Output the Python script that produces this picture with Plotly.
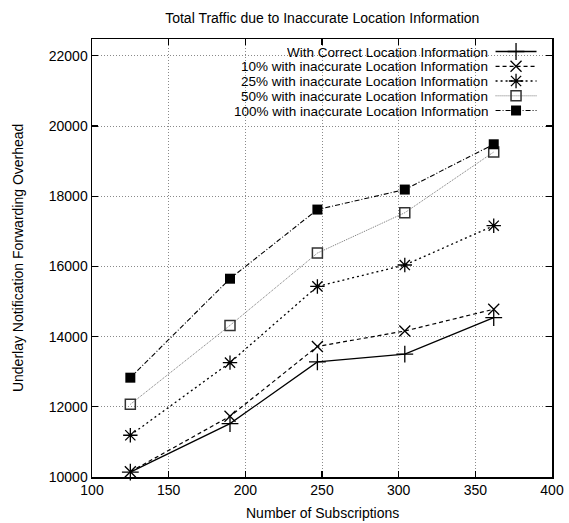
import plotly.graph_objects as go

# ---- data ----
subscriptions = [125, 190, 247, 304, 362]
correct = [10140, 11520, 13280, 13500, 14540]
inacc10 = [10150, 11730, 13720, 14160, 14780]
inacc25 = [11190, 13260, 15430, 16040, 17160]
inacc50 = [12070, 14320, 16380, 17530, 19260]
inacc100 = [12830, 15650, 17620, 18190, 19480]

series_names = [
    "With Correct Location Information",
    "10% with inaccurate Location Information",
    "25% with inaccurate Location Information",
    "50% with inaccurate Location Information",
    "100% with inaccurate Location Information",
]
series_values = [correct, inacc10, inacc25, inacc50, inacc100]

x_ticks = [100, 150, 200, 250, 300, 350, 400]
y_ticks = [10000, 12000, 14000, 16000, 18000, 20000, 22000]

# ---- styles ----
styles = [
    dict(dash="solid", color="black", lw=1.3, sym="cross-thin-open", ms=12, mlw=1.3, mcolor="black"),
    dict(dash="4px,3px", color="black", lw=1.2, sym="x-thin-open", ms=11, mlw=1.3, mcolor="black"),
    dict(dash="2px,3px", color="black", lw=1.3, sym="asterisk-open", ms=12, mlw=1.3, mcolor="black"),
    dict(dash="1px,1px", color="#777777", lw=1.0, sym="square-open", ms=10, mlw=1.5, mcolor="#333333"),
    dict(dash="5px,2px,1px,2px", color="black", lw=1.1, sym="square", ms=10, mlw=0, mcolor="black"),
]

FONT = "Liberation Sans, Arial, Helvetica, sans-serif"
FS = 14
KEY_FS = 13.5
W, H = 569, 523
L, R, T, B = 92, 16.5, 39, 46
px_left, px_right = L, W - R
px_top, px_bottom = T, H - B
plot_w = px_right - px_left
plot_h = px_bottom - px_top

fig = go.Figure()

for name, vals, st in zip(series_names, series_values, styles):
    fig.add_trace(go.Scatter(
        x=subscriptions, y=vals, name=name, mode="lines+markers",
        line=dict(color=st["color"], width=st["lw"], dash=st["dash"]),
        marker=dict(symbol=st["sym"], size=st["ms"], color=st["mcolor"],
                    line=dict(width=st["mlw"], color=st["mcolor"])),
        showlegend=False, xaxis="x", yaxis="y", cliponaxis=False,
    ))

# ---- manual gnuplot-style key (text right-aligned, sample on the right) ----
key_rows = [51.5, 66.3, 81.0, 95.8, 110.5]
sample_x0, sample_x1 = 496, 537
text_right = 489
for name, st, ry in zip(series_names, styles, key_rows):
    fig.add_trace(go.Scatter(
        x=[sample_x0, sample_x1], y=[ry, ry], mode="lines",
        line=dict(color=st["color"], width=st["lw"], dash=st["dash"]),
        showlegend=False, xaxis="x2", yaxis="y2", hoverinfo="skip",
    ))
    fig.add_trace(go.Scatter(
        x=[(sample_x0 + sample_x1) / 2], y=[ry], mode="markers",
        marker=dict(symbol=st["sym"], size=st["ms"], color=st["mcolor"],
                    line=dict(width=st["mlw"], color=st["mcolor"])),
        showlegend=False, xaxis="x2", yaxis="y2", hoverinfo="skip",
    ))
    fig.add_annotation(
        x=text_right, y=ry, xref="x2", yref="y2", text=name, showarrow=False,
        xanchor="right", yanchor="middle", height=14, borderpad=0,
        font=dict(family=FONT, size=KEY_FS, color="black"),
    )

# key box masks the grid behind it
fig.add_shape(type="rect", xref="paper", yref="paper",
              x0=(133 - px_left) / plot_w, x1=1 - 1.5 / plot_w,
              y0=(px_bottom - 123) / plot_h, y1=1 - 1.5 / plot_h,
              fillcolor="white", line=dict(width=0), layer="below")

# axis titles as annotations for exact placement
fig.add_annotation(text="Number of Subscriptions", xref="paper", yref="paper",
                   x=0.5, y=-(513 - px_bottom) / plot_h, xanchor="center", yanchor="middle",
                   showarrow=False, font=dict(family=FONT, size=FS, color="black"))
fig.add_annotation(text="Underlay Notification Forwarding Overhead", xref="paper", yref="paper",
                   x=-(px_left - 18) / plot_w, y=0.5, xanchor="center", yanchor="middle",
                   textangle=-90, showarrow=False, font=dict(family=FONT, size=FS, color="black"))

axis_common = dict(
    showline=True, linecolor="black", linewidth=1.5, mirror="allticks",
    ticks="inside", ticklen=6, tickwidth=1.2, tickcolor="black",
    showgrid=True, gridcolor="#8a8a8a", gridwidth=1, griddash="1px,2px",
    zeroline=False, tickfont=dict(family=FONT, size=FS, color="black"),
)

fig.update_layout(
    width=W, height=H,
    margin=dict(l=L, r=R, t=T, b=B, pad=0, autoexpand=False),
    paper_bgcolor="white", plot_bgcolor="white",
    title=dict(text="Total Traffic due to Inaccurate Location Information",
               x=(px_left + px_right) / 2 / W, xanchor="center", y=1 - 18 / H, yanchor="middle",
               font=dict(family=FONT, size=FS, color="black")),
    xaxis=dict(range=[100, 400], tickvals=x_ticks, ticktext=[str(v) for v in x_ticks],
               automargin=False, **axis_common),
    yaxis=dict(range=[10000, 22480], tickvals=y_ticks, ticktext=[str(v) for v in y_ticks],
               automargin=False, **axis_common),
    xaxis2=dict(overlaying="x", range=[px_left, px_right], visible=False, fixedrange=True),
    yaxis2=dict(overlaying="y", range=[px_bottom, px_top], visible=False, fixedrange=True),
    font=dict(family=FONT, size=FS, color="black"),
    hovermode=False,
)

fig.write_html(
    "out.html",
    config={"displayModeBar": False, "staticPlot": True},
    post_script="document.body.style.margin='0';document.body.style.padding='0';"
                "document.body.style.overflow='hidden';",
)
